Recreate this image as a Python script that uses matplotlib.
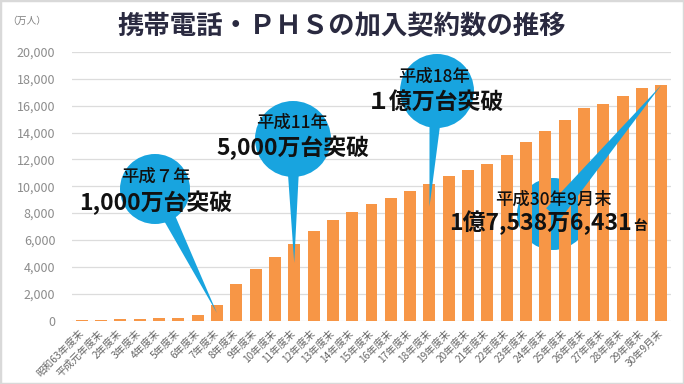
import matplotlib
matplotlib.use('Agg')
import matplotlib.pyplot as plt
from matplotlib.patches import Ellipse, Polygon, Rectangle
import numpy as np

plt.rcParams['font.family'] = ['Noto Sans CJK JP', 'DejaVu Sans']

W, H = 684, 384

# 年度末ごとの加入契約数（万）
categories = ['昭和63年度末', '平成元年度末', '2年度末', '3年度末', '4年度末', '5年度末',
              '6年度末', '7年度末', '8年度末', '9年度末', '10年度末', '11年度末',
              '12年度末', '13年度末', '14年度末', '15年度末', '16年度末', '17年度末',
              '18年度末', '19年度末', '20年度末', '21年度末', '22年度末', '23年度末',
              '24年度末', '25年度末', '26年度末', '27年度末', '28年度末', '29年度末',
              '30年9月末']
values = [24, 49, 87, 138, 171, 213, 433, 1171, 2691, 3825, 4731, 5685, 6678, 7490,
          8112, 8667, 9155, 9650, 10165, 10732, 11215, 11640, 12340, 13285, 14120,
          14965, 15810, 16090, 16740, 17310, 17539]
yticks = list(range(0, 20001, 2000))

BAR = '#F79646'
BLUE = '#18A4DF'

fig = plt.figure(figsize=(W / 100, H / 100), dpi=100)
ax = fig.add_axes([72 / W, 1 - 320.5 / H, (671 - 72) / W, (320.5 - 52) / H])

x = np.arange(len(categories))
ax.bar(x, values, width=0.62, color=BAR, zorder=2)
ax.set_xlim(-0.5, len(categories) - 0.5)
ax.set_ylim(0, 20000)
ax.set_yticks(yticks)
ax.set_yticklabels([f'{v:,}' for v in yticks], fontsize=9, color='#8C8C8C')
ax.set_xticks(x)
ax.set_xticklabels(categories, rotation=45, ha='right', va='center',
                   rotation_mode='anchor', fontsize=7.3, color='#666666')
ax.tick_params(axis='y', length=0, pad=12)
ax.tick_params(axis='x', length=0, pad=8)
ax.grid(axis='y', color='#DCDCDC', linewidth=0.9, zorder=0)
ax.set_axisbelow(True)
for s in ax.spines.values():
    s.set_visible(False)


def to_fig(px, py):
    # 左上原点のピクセル座標 -> figure座標
    return px / W, 1 - py / H


def balloon(center, r, tip, hw, circle_z):
    cx, cy = center
    tx, ty = ax.transData.transform(tip)
    cdx, cdy = cx, H - cy
    d = np.array([tx - cdx, ty - cdy])
    d = d / np.hypot(*d)
    p = np.array([-d[1], d[0]])
    pts = [(cdx + p[0] * hw, cdy + p[1] * hw), (tx, ty),
           (cdx - p[0] * hw, cdy - p[1] * hw)]
    pts = [(a / W, b / H) for a, b in pts]
    tail = Polygon(pts, closed=True, facecolor=BLUE, edgecolor='none',
                   transform=fig.transFigure, zorder=3, clip_on=False)
    circ = Ellipse(to_fig(cx, cy), 2 * r / W, 2 * r / H, facecolor=BLUE,
                   edgecolor='none', transform=fig.transFigure,
                   zorder=circle_z, clip_on=False)
    ax.add_patch(circ)
    ax.add_patch(tail)


balloon((155, 189), 35, (7, 560), 8, 3)
balloon((293, 139), 38, (11, 4290), 7.5, 3)
balloon((437, 91), 37, (18, 8470), 7.5, 3)
balloon((553, 214), 36, (30, 17539), 9, 1)

small = dict(fontsize=12.5, fontweight='medium', color='#111111', ha='center', va='center')
big = dict(fontsize=16.5, fontweight='bold', color='#111111', ha='center', va='center')

fig.text(*to_fig(156, 177), '平成７年', **small)
fig.text(*to_fig(156, 203), '1,000万台突破', **big)
fig.text(*to_fig(292, 123), '平成11年', **small)
fig.text(*to_fig(293, 148), '5,000万台突破', **big)
fig.text(*to_fig(434, 77), '平成18年', **small)
fig.text(*to_fig(436, 102), '１億万台突破', **big)
fig.text(*to_fig(553, 200), '平成30年9月末', **small)
fig.text(*to_fig(632, 230), '1億7,538万6,431', fontsize=16.5, fontweight='bold',
         color='#111111', ha='right', va='baseline')
fig.text(*to_fig(633, 230), '台', fontsize=10, fontweight='bold',
         color='#111111', ha='left', va='baseline')

fig.text(*to_fig(342, 27), '携帯電話・ＰＨＳの加入契約数の推移', fontsize=19,
         fontweight='bold', color='#2A2A40', ha='center', va='center')
fig.text(*to_fig(27, 21), '（万人）', fontsize=7, color='#7F7F7F', ha='center', va='center')

fig.add_artist(Rectangle((0, 0), 1, 1, transform=fig.transFigure, fill=False,
                         edgecolor='#D9D9D9', linewidth=2.5))

fig.savefig('out.png', dpi=100)
